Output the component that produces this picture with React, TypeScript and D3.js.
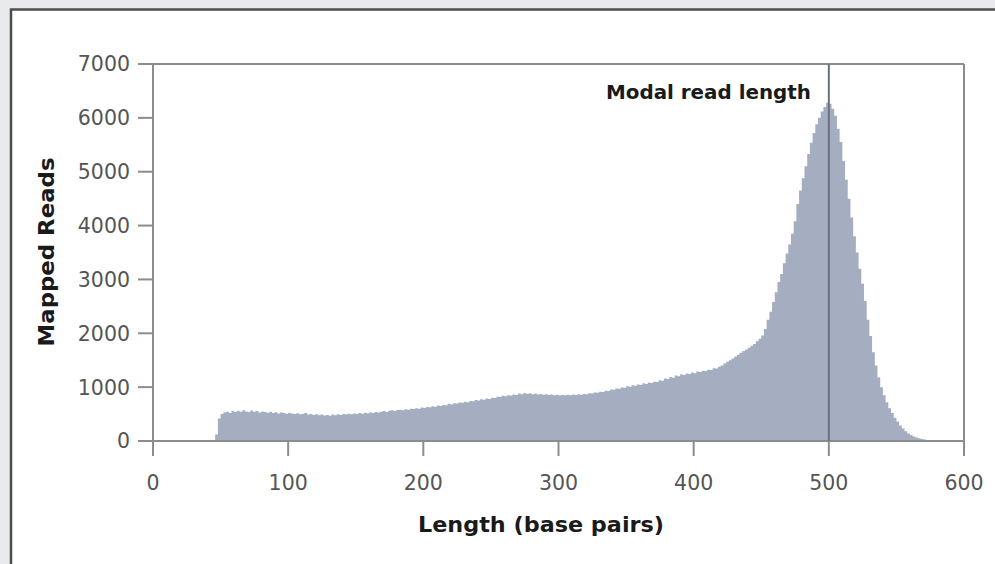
import React from "react";
import * as d3 from "d3";

const BIN_START = 46;
const BIN_WIDTH = 2;
// mapped reads per 2-bp bin, starting at 46 bp
const reads = [
  120, 420, 500, 530, 545, 520, 555, 540, 560, 545,
  570, 550, 540, 565, 545, 555, 530, 550, 540, 525,
  545, 520, 535, 510, 530, 520, 505, 525, 510, 500,
  515, 495, 505, 520, 490, 500, 485, 495, 480, 490,
  475, 485, 470, 490, 480, 495, 485, 500, 490, 505,
  495, 510, 500, 520, 505, 525, 515, 530, 520, 540,
  530, 545, 555, 540, 560, 570, 555, 575, 580, 570,
  590, 580, 600, 595, 610, 600, 620, 615, 630, 625,
  645, 635, 660, 650, 670, 665, 690, 680, 700, 695,
  715, 710, 730, 720, 745, 740, 760, 750, 775, 765,
  790, 780, 805, 800, 820, 815, 840, 830, 850, 845,
  865, 855, 880, 870, 890, 875, 885, 870, 880, 865,
  875, 860, 870, 855, 865, 850, 860, 845, 855, 850,
  860, 850, 865, 855, 870, 860, 875, 870, 885, 880,
  900, 895, 915, 910, 935, 930, 955, 950, 975, 970,
  995, 990, 1015, 1005, 1035, 1025, 1050, 1040, 1070, 1060,
  1085, 1075, 1100, 1095, 1130, 1120, 1160, 1150, 1190, 1175,
  1215, 1200, 1240, 1225, 1255, 1245, 1270, 1260, 1290, 1280,
  1305, 1300, 1325, 1320, 1350, 1345, 1380, 1400, 1440, 1470,
  1500, 1530, 1570, 1600, 1640, 1670, 1700, 1730, 1770, 1800,
  1850, 1900, 1960, 2080, 2250, 2400, 2580, 2760, 2950, 3100,
  3300, 3480, 3650, 3850, 4080, 4400, 4650, 4880, 5100, 5330,
  5540, 5720, 5880, 6000, 6120, 6200, 6280, 6260, 6170, 6040,
  5800, 5550, 5200, 4850, 4500, 4150, 3800, 3500, 3200, 2920,
  2600, 2250, 1950, 1650, 1400, 1180, 1000, 850, 720, 610,
  520, 430, 360, 290, 230, 180, 140, 110, 85, 65,
  50, 38, 28, 18, 10, 5,
];

const xTicks = [0, 100, 200, 300, 400, 500, 600];
const yTicks = [0, 1000, 2000, 3000, 4000, 5000, 6000, 7000];
const modalLength = 500;
const xTitle = "Length (base pairs)";
const yTitle = "Mapped Reads";
const modalLabel = "Modal read length";

const W = 995;
const H = 564;
const FONT = "'DejaVu Sans', Verdana, sans-serif";

export default function App() {
  const x = d3.scaleLinear().domain([0, 600]).range([153, 964]);
  const y = d3.scaleLinear().domain([0, 7000]).range([441, 64]);

  const pts: [number, number][] = reads.map((v, i) => [BIN_START + i * BIN_WIDTH, v]);
  pts.push([BIN_START + reads.length * BIN_WIDTH, reads[reads.length - 1]]);
  const area = d3
    .area<[number, number]>()
    .x((d) => x(d[0]))
    .y0(y(0))
    .y1((d) => y(d[1]))
    .curve(d3.curveStepAfter);

  const axisColor = "#8c8c8c";
  const tickText = "#555";

  return (
    <svg
      width={W}
      height={H}
      style={{ position: "absolute", left: 0, top: 0, display: "block" }}
    >
      <rect x={0} y={0} width={W} height={H} fill="#e8eaed" />
      <rect x={11} y={9.5} width={W + 20} height={H + 20} fill="#ffffff" stroke="#4d4d4d" strokeWidth={2.5} />

      <path d={area(pts) || ""} fill="#a4aec0" />

      {/* frame */}
      <line x1={x(0)} x2={x(600)} y1={y(7000)} y2={y(7000)} stroke={axisColor} strokeWidth={2} />
      <line x1={x(600)} x2={x(600)} y1={y(7000)} y2={y(0)} stroke={axisColor} strokeWidth={2} />
      <line x1={x(0)} x2={x(0)} y1={y(7000)} y2={y(0)} stroke={axisColor} strokeWidth={2} />
      <line x1={x(0)} x2={x(600)} y1={y(0)} y2={y(0)} stroke={axisColor} strokeWidth={2} />

      {/* modal line */}
      <line x1={x(modalLength)} x2={x(modalLength)} y1={y(7000)} y2={y(0)} stroke="#6b7080" strokeWidth={2} />

      {yTicks.map((t) => (
        <g key={"y" + t}>
          <line x1={x(0) - 15} x2={x(0)} y1={y(t)} y2={y(t)} stroke={axisColor} strokeWidth={2} />
          <text
            x={130}
            y={y(t)}
            dy="0.36em"
            textAnchor="end"
            fontFamily={FONT}
            fontSize={20.5}
            fill={tickText}
          >
            {t}
          </text>
        </g>
      ))}
      {xTicks.map((t) => (
        <g key={"x" + t}>
          <line x1={x(t)} x2={x(t)} y1={y(0)} y2={y(0) + 15} stroke={axisColor} strokeWidth={2} />
          <text
            x={x(t)}
            y={490}
            textAnchor="middle"
            fontFamily={FONT}
            fontSize={20.5}
            fill={tickText}
          >
            {t}
          </text>
        </g>
      ))}

      <text
        x={811}
        y={99}
        textAnchor="end"
        fontFamily={FONT}
        fontWeight="bold"
        fontSize={19.5}
        fill="#1a1a1a"
        textLength={205}
        lengthAdjust="spacingAndGlyphs"
      >
        {modalLabel}
      </text>

      <text
        x={541}
        y={532}
        textAnchor="middle"
        fontFamily={FONT}
        fontWeight="bold"
        fontSize={21}
        fill="#1a1a1a"
        textLength={246}
        lengthAdjust="spacingAndGlyphs"
      >
        {xTitle}
      </text>

      <text
        transform={`translate(54,252) rotate(-90)`}
        textAnchor="middle"
        fontFamily={FONT}
        fontWeight="bold"
        fontSize={21}
        fill="#1a1a1a"
        textLength={189}
        lengthAdjust="spacingAndGlyphs"
      >
        {yTitle}
      </text>
    </svg>
  );
}
